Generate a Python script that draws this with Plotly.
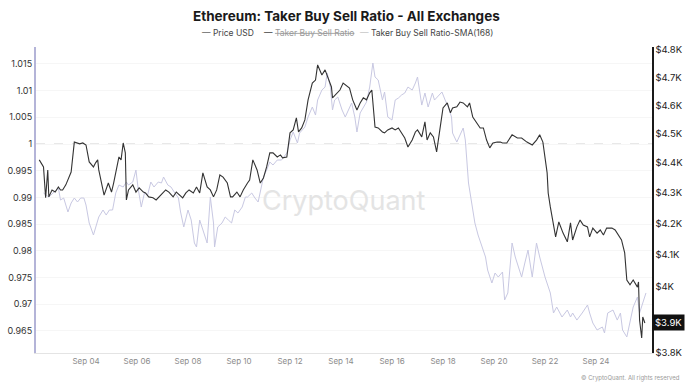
import math
import plotly.graph_objects as go

# ---------------- data ----------------
price_time = [
    "2025-09-02 04:00", "2025-09-02 06:00", "2025-09-02 08:00", "2025-09-02 10:00", "2025-09-02 12:00",
    "2025-09-02 13:00", "2025-09-02 16:00", "2025-09-02 19:00", "2025-09-02 22:00", "2025-09-03 00:00",
    "2025-09-03 02:00", "2025-09-03 05:00", "2025-09-03 08:00", "2025-09-03 10:00", "2025-09-03 13:00",
    "2025-09-03 16:00", "2025-09-03 18:00", "2025-09-03 21:00", "2025-09-04 00:00", "2025-09-04 03:00",
    "2025-09-04 07:00", "2025-09-04 09:00", "2025-09-04 11:00", "2025-09-04 12:00", "2025-09-04 16:00",
    "2025-09-04 17:00", "2025-09-04 21:00", "2025-09-05 00:00", "2025-09-05 02:00", "2025-09-05 06:00",
    "2025-09-05 07:00", "2025-09-05 09:00", "2025-09-05 11:00", "2025-09-05 13:00", "2025-09-05 14:00",
    "2025-09-05 16:00", "2025-09-05 20:00", "2025-09-05 23:00", "2025-09-06 02:00", "2025-09-06 06:00",
    "2025-09-06 08:00", "2025-09-06 11:00", "2025-09-06 15:00", "2025-09-06 18:00", "2025-09-06 21:00",
    "2025-09-07 00:00", "2025-09-07 03:00", "2025-09-07 06:00", "2025-09-07 10:00", "2025-09-07 13:00",
    "2025-09-07 16:00", "2025-09-07 19:00", "2025-09-07 22:00", "2025-09-08 01:00", "2025-09-08 05:00",
    "2025-09-08 08:00", "2025-09-08 11:00", "2025-09-08 14:00", "2025-09-08 18:00", "2025-09-08 21:00",
    "2025-09-09 00:00", "2025-09-09 03:00", "2025-09-09 06:00", "2025-09-09 09:00", "2025-09-09 13:00",
    "2025-09-09 16:00", "2025-09-09 18:00", "2025-09-09 22:00", "2025-09-10 01:00", "2025-09-10 04:00",
    "2025-09-10 08:00", "2025-09-10 10:00", "2025-09-10 13:00", "2025-09-10 17:00", "2025-09-10 20:00",
    "2025-09-10 23:00", "2025-09-11 02:00", "2025-09-11 05:00", "2025-09-11 08:00", "2025-09-11 12:00",
    "2025-09-11 15:00", "2025-09-11 17:00", "2025-09-11 21:00", "2025-09-12 00:00", "2025-09-12 03:00",
    "2025-09-12 06:00", "2025-09-12 08:00", "2025-09-12 11:00", "2025-09-12 14:00", "2025-09-12 17:00",
    "2025-09-12 21:00", "2025-09-13 00:00", "2025-09-13 02:00", "2025-09-13 06:00", "2025-09-13 09:00",
    "2025-09-13 12:00", "2025-09-13 15:00", "2025-09-13 16:00", "2025-09-13 20:00", "2025-09-13 23:00",
    "2025-09-14 02:00", "2025-09-14 06:00", "2025-09-14 08:00", "2025-09-14 11:00", "2025-09-14 15:00",
    "2025-09-14 18:00", "2025-09-14 21:00", "2025-09-15 00:00", "2025-09-15 03:00", "2025-09-15 05:00",
    "2025-09-15 08:00", "2025-09-15 11:00", "2025-09-15 15:00", "2025-09-15 17:00", "2025-09-15 20:00",
    "2025-09-16 00:00", "2025-09-16 03:00", "2025-09-16 06:00", "2025-09-16 09:00", "2025-09-16 12:00",
    "2025-09-16 15:00", "2025-09-16 19:00", "2025-09-16 22:00", "2025-09-17 00:00", "2025-09-17 04:00",
    "2025-09-17 07:00", "2025-09-17 09:00", "2025-09-17 12:00", "2025-09-17 15:00", "2025-09-17 18:00",
    "2025-09-17 21:00", "2025-09-18 00:00", "2025-09-18 04:00", "2025-09-18 07:00", "2025-09-18 09:00",
    "2025-09-18 13:00", "2025-09-18 16:00", "2025-09-18 19:00", "2025-09-18 23:00", "2025-09-19 01:00",
    "2025-09-19 04:00", "2025-09-19 08:00", "2025-09-19 11:00", "2025-09-19 14:00", "2025-09-19 17:00",
    "2025-09-19 20:00", "2025-09-19 23:00", "2025-09-20 03:00", "2025-09-20 06:00", "2025-09-20 08:00",
    "2025-09-20 12:00", "2025-09-20 17:00", "2025-09-20 22:00", "2025-09-21 02:00", "2025-09-21 07:00",
    "2025-09-21 12:00", "2025-09-21 16:00", "2025-09-21 19:00", "2025-09-21 22:00", "2025-09-22 02:00",
    "2025-09-22 03:00", "2025-09-22 05:00", "2025-09-22 08:00", "2025-09-22 10:00", "2025-09-22 13:00",
    "2025-09-22 17:00", "2025-09-22 21:00", "2025-09-23 00:00", "2025-09-23 02:00", "2025-09-23 06:00",
    "2025-09-23 09:00", "2025-09-23 12:00", "2025-09-23 16:00", "2025-09-23 18:00", "2025-09-23 21:00",
    "2025-09-24 01:00", "2025-09-24 04:00", "2025-09-24 07:00", "2025-09-24 10:00", "2025-09-24 15:00",
    "2025-09-24 18:00", "2025-09-24 21:00", "2025-09-25 00:00", "2025-09-25 03:00", "2025-09-25 05:00",
    "2025-09-25 08:00", "2025-09-25 11:00", "2025-09-25 15:00", "2025-09-25 16:00", "2025-09-25 17:00",
    "2025-09-25 19:00", "2025-09-25 20:00", "2025-09-25 22:00",
]
price_usd = [
    4410, 4400, 4386, 4283, 4376, 4286, 4309, 4302, 4319, 4309,
    4309, 4326, 4352, 4369, 4471, 4468, 4465, 4468, 4461, 4403,
    4386, 4400, 4410, 4376, 4309, 4292, 4332, 4302, 4332, 4410,
    4420, 4410, 4468, 4434, 4276, 4309, 4326, 4302, 4316, 4302,
    4299, 4286, 4283, 4276, 4286, 4299, 4309, 4302, 4286, 4302,
    4292, 4283, 4299, 4309, 4299, 4319, 4299, 4366, 4319, 4309,
    4286, 4309, 4359, 4352, 4332, 4286, 4286, 4302, 4286, 4309,
    4332, 4342, 4410, 4376, 4332, 4349, 4386, 4434, 4434, 4420,
    4427, 4417, 4420, 4503, 4513, 4555, 4506, 4520, 4548, 4619,
    4679, 4690, 4745, 4708, 4727, 4698, 4665, 4626, 4644, 4654,
    4679, 4665, 4661, 4619, 4583, 4608, 4626, 4619, 4644, 4654,
    4523, 4520, 4506, 4503, 4513, 4520, 4513, 4520, 4503, 4485,
    4454, 4478, 4506, 4513, 4489, 4541, 4478, 4503, 4489, 4437,
    4513, 4590, 4608, 4573, 4590, 4594, 4611, 4608, 4594, 4608,
    4558, 4537, 4520, 4520, 4478, 4451, 4468, 4471, 4471, 4468,
    4468, 4496, 4485, 4485, 4471, 4461, 4478, 4496, 4471, 4366,
    4299, 4253, 4194, 4156, 4204, 4168, 4140, 4201, 4146, 4188,
    4210, 4194, 4188, 4156, 4184, 4168, 4178, 4162, 4184, 4184,
    4178, 4162, 4146, 4105, 4020, 4005, 4020, 3998, 4014, 3898,
    3844, 3907, 3889,
]

sma_time = [
    "2025-09-02 08:00", "2025-09-02 13:00", "2025-09-02 18:00", "2025-09-02 22:00", "2025-09-03 00:00",
    "2025-09-03 03:00", "2025-09-03 07:00", "2025-09-03 10:00", "2025-09-03 13:00", "2025-09-03 16:00",
    "2025-09-03 19:00", "2025-09-03 22:00", "2025-09-04 00:00", "2025-09-04 03:00", "2025-09-04 07:00",
    "2025-09-04 09:00", "2025-09-04 12:00", "2025-09-04 16:00", "2025-09-04 19:00", "2025-09-04 22:00",
    "2025-09-05 01:00", "2025-09-05 04:00", "2025-09-05 07:00", "2025-09-05 11:00", "2025-09-05 14:00",
    "2025-09-05 16:00", "2025-09-05 20:00", "2025-09-05 23:00", "2025-09-06 01:00", "2025-09-06 04:00",
    "2025-09-06 07:00", "2025-09-06 10:00", "2025-09-06 13:00", "2025-09-06 16:00", "2025-09-06 20:00",
    "2025-09-06 23:00", "2025-09-07 01:00", "2025-09-07 05:00", "2025-09-07 08:00", "2025-09-07 11:00",
    "2025-09-07 15:00", "2025-09-07 17:00", "2025-09-07 20:00", "2025-09-08 00:00", "2025-09-08 03:00",
    "2025-09-08 06:00", "2025-09-08 08:00", "2025-09-08 11:00", "2025-09-08 14:00", "2025-09-08 18:00",
    "2025-09-08 21:00", "2025-09-09 00:00", "2025-09-09 01:00", "2025-09-09 04:00", "2025-09-09 08:00",
    "2025-09-09 11:00", "2025-09-09 14:00", "2025-09-09 17:00", "2025-09-09 20:00", "2025-09-09 23:00",
    "2025-09-10 03:00", "2025-09-10 06:00", "2025-09-10 08:00", "2025-09-10 12:00", "2025-09-10 15:00",
    "2025-09-10 18:00", "2025-09-10 21:00", "2025-09-10 23:00", "2025-09-11 02:00", "2025-09-11 05:00",
    "2025-09-11 08:00", "2025-09-11 12:00", "2025-09-11 16:00", "2025-09-11 21:00", "2025-09-12 00:00",
    "2025-09-12 03:00", "2025-09-12 07:00", "2025-09-12 09:00", "2025-09-12 14:00", "2025-09-12 17:00",
    "2025-09-12 21:00", "2025-09-13 00:00", "2025-09-13 02:00", "2025-09-13 06:00", "2025-09-13 09:00",
    "2025-09-13 11:00", "2025-09-13 14:00", "2025-09-13 16:00", "2025-09-13 18:00", "2025-09-13 21:00",
    "2025-09-14 01:00", "2025-09-14 04:00", "2025-09-14 07:00", "2025-09-14 10:00", "2025-09-14 13:00",
    "2025-09-14 15:00", "2025-09-14 18:00", "2025-09-14 21:00", "2025-09-15 00:00", "2025-09-15 03:00",
    "2025-09-15 06:00", "2025-09-15 08:00", "2025-09-15 11:00", "2025-09-15 15:00", "2025-09-15 17:00",
    "2025-09-15 20:00", "2025-09-16 00:00", "2025-09-16 03:00", "2025-09-16 06:00", "2025-09-16 09:00",
    "2025-09-16 12:00", "2025-09-16 15:00", "2025-09-16 19:00", "2025-09-16 22:00", "2025-09-17 00:00",
    "2025-09-17 04:00", "2025-09-17 07:00", "2025-09-17 10:00", "2025-09-17 14:00", "2025-09-17 16:00",
    "2025-09-17 19:00", "2025-09-17 23:00", "2025-09-18 02:00", "2025-09-18 05:00", "2025-09-18 08:00",
    "2025-09-18 09:00", "2025-09-18 13:00", "2025-09-18 16:00", "2025-09-18 19:00", "2025-09-18 21:00",
    "2025-09-19 00:00", "2025-09-19 03:00", "2025-09-19 06:00", "2025-09-19 09:00", "2025-09-19 13:00",
    "2025-09-19 16:00", "2025-09-19 18:00", "2025-09-19 22:00", "2025-09-20 01:00", "2025-09-20 04:00",
    "2025-09-20 08:00", "2025-09-20 10:00", "2025-09-20 13:00", "2025-09-20 17:00", "2025-09-20 20:00",
    "2025-09-20 23:00", "2025-09-21 02:00", "2025-09-21 05:00", "2025-09-21 08:00", "2025-09-21 12:00",
    "2025-09-21 16:00", "2025-09-21 19:00", "2025-09-22 00:00", "2025-09-22 05:00", "2025-09-22 08:00",
    "2025-09-22 11:00", "2025-09-22 16:00", "2025-09-22 21:00", "2025-09-23 00:00", "2025-09-23 02:00",
    "2025-09-23 06:00", "2025-09-23 11:00", "2025-09-23 16:00", "2025-09-23 18:00", "2025-09-23 21:00",
    "2025-09-24 01:00", "2025-09-24 06:00", "2025-09-24 08:00", "2025-09-24 11:00", "2025-09-24 16:00",
    "2025-09-24 20:00", "2025-09-24 23:00", "2025-09-25 01:00", "2025-09-25 05:00", "2025-09-25 08:00",
    "2025-09-25 11:00", "2025-09-25 15:00", "2025-09-25 17:00", "2025-09-25 20:00", "2025-09-25 23:00",
]
sma_ratio = [
    0.99082, 0.99007, 0.99101, 0.99176, 0.98951, 0.98989, 0.98727, 0.98895, 0.98989, 0.98914,
    0.98989, 0.98989, 0.98858, 0.98521, 0.98296, 0.98446, 0.98633, 0.98764, 0.98670, 0.98764,
    0.98764, 0.99082, 0.99232, 0.99195, 0.99288, 0.99232, 0.99288, 0.99513, 0.99176, 0.98820,
    0.99082, 0.99045, 0.99288, 0.99195, 0.99288, 0.99270, 0.99382, 0.99232, 0.99195, 0.99101,
    0.98989, 0.98727, 0.98446, 0.98764, 0.98577, 0.98146, 0.98071, 0.98577, 0.98389, 0.98146,
    0.99007, 0.98521, 0.98071, 0.98446, 0.98521, 0.98633, 0.98577, 0.98521, 0.98764, 0.98708,
    0.98820, 0.99007, 0.99007, 0.99082, 0.98989, 0.98914, 0.99195, 0.99382, 0.99513, 0.99663,
    0.99607, 0.99700, 0.99700, 0.99831, 1.00075, 1.00225, 1.00019, 1.00206, 1.00318, 1.00506,
    1.00693, 1.00543, 1.00824, 1.01011, 1.01067, 1.01330, 1.01067, 1.00637, 1.00824, 1.00880,
    1.00637, 1.00506, 1.00637, 1.00768, 1.00506, 1.00225, 1.00581, 1.00693, 1.00787, 1.01067,
    1.01517, 1.01255, 1.01199, 1.00824, 1.00974, 1.00506, 1.00449, 1.00824, 1.00861, 1.00918,
    1.00955, 1.01067, 1.01011, 1.01142, 1.01255, 1.00730, 1.00955, 1.00693, 1.00955, 1.00824,
    1.00880, 1.00974, 1.00824, 1.00693, 1.00506, 1.00206, 1.00037, 1.00169, 1.00300, 1.00075,
    0.99270, 0.98895, 0.98521, 0.98296, 0.98071, 0.97884, 0.97640, 0.97397, 0.97584, 0.97509,
    0.97603, 0.97079, 0.97210, 0.98146, 0.97884, 0.97697, 0.97509, 0.97771, 0.98015, 0.97509,
    0.98146, 0.97884, 0.97509, 0.97210, 0.96835, 0.96947, 0.96760, 0.96891, 0.96760, 0.96835,
    0.96703, 0.96835, 0.96985, 0.96835, 0.96648, 0.96517, 0.96573, 0.96461, 0.96835, 0.96891,
    0.96703, 0.96835, 0.96517, 0.96386, 0.96703, 0.96947, 0.97135, 0.96835, 0.97022, 0.97210,
]

ratio_ticks = [0.965, 0.97, 0.975, 0.98, 0.985, 0.99, 0.995, 1.0, 1.005, 1.01, 1.015]
ratio_ticktext = ["0.965", "0.97", "0.975", "0.98", "0.985", "0.99", "0.995", "1", "1.005", "1.01", "1.015"]
# the $3.9K level is shown by the last-price badge, which hides its tick label
price_ticks = [3800, 4000, 4100, 4200, 4300, 4400, 4500, 4600, 4700, 4800]
price_ticktext = ["$3.8K", "$4K", "$4.1K", "$4.2K", "$4.3K", "$4.4K", "$4.5K", "$4.6K", "$4.7K", "$4.8K"]
last_price_label = "$3.9K"
x_ticks = ["2025-09-04", "2025-09-06", "2025-09-08", "2025-09-10", "2025-09-12", "2025-09-14",
           "2025-09-16", "2025-09-18", "2025-09-20", "2025-09-22", "2025-09-24"]
x_ticktext = ["Sep 04", "Sep 06", "Sep 08", "Sep 10", "Sep 12", "Sep 14",
              "Sep 16", "Sep 18", "Sep 20", "Sep 22", "Sep 24"]

FONT = "Inter, Roboto, 'Noto Sans', sans-serif"
W, H = 694, 389
ML, MR, MT, MB = 36, 42, 47, 36
PW = W - ML - MR
PH = H - MT - MB


def px_x(p):
    return (p - ML) / PW


def px_y(p):
    return (H - MB - p) / PH


fig = go.Figure()
fig.add_trace(go.Scatter(
    x=sma_time, y=sma_ratio, mode="lines", yaxis="y",
    line=dict(color="#c8c8e2", width=1), showlegend=False,
    name="Taker Buy Sell Ratio-SMA(168)"))
fig.add_trace(go.Scatter(
    x=price_time, y=price_usd, mode="lines", yaxis="y2",
    line=dict(color="#333333", width=1.1), showlegend=False,
    name="Price USD"))

fig.update_layout(
    width=W, height=H,
    margin=dict(l=ML, r=MR, t=MT, b=MB, autoexpand=False),
    paper_bgcolor="white", plot_bgcolor="white",
    font=dict(family=FONT),
    showlegend=False,
    xaxis=dict(
        type="date", automargin=False,
        range=["2025-09-02 00:56", "2025-09-26 04:42"],
        tickvals=x_ticks, ticktext=x_ticktext,
        tickfont=dict(size=8, color="#8c8c8c"),
        showgrid=False, zeroline=False,
        showline=True, linecolor="#e4e4e4", linewidth=1,
        ticks="", ticklen=0,
    ),
    yaxis=dict(
        automargin=False,
        range=[0.96086, 1.01817],
        tickvals=ratio_ticks, ticktext=ratio_ticktext,
        tickfont=dict(size=9, color="#333333"),
        showgrid=True, gridcolor="#f6f6f6", gridwidth=1,
        zeroline=False,
        showline=True, linecolor="#b4b4d8", linewidth=2,
        ticks="",
    ),
    yaxis2=dict(
        overlaying="y", side="right", type="log", automargin=False,
        range=[3.57978, 3.68224],
        tickvals=price_ticks, ticktext=price_ticktext,
        tickfont=dict(size=9.5, color="#222222"),
        showgrid=False, zeroline=False,
        showline=True, linecolor="#1a1a1a", linewidth=1.5,
        ticks="",
    ),
    shapes=[dict(
        type="line", xref="paper", x0=0, x1=1, yref="y", y0=1, y1=1,
        line=dict(color="#cfcfcf", width=1, dash="dash"), layer="below",
    )],
)

annotations = [
    dict(text="<b>Ethereum: Taker Buy Sell Ratio - All Exchanges</b>",
         x=px_x(346), y=px_y(16), xref="paper", yref="paper",
         xanchor="center", yanchor="middle", showarrow=False,
         font=dict(size=13.5, color="#1a1a1a", family=FONT)),
    dict(text="<span style='color:#666'>—</span> Price USD",
         x=px_x(200), y=px_y(33), xref="paper", yref="paper",
         xanchor="left", yanchor="middle", showarrow=False,
         font=dict(size=8.5, color="#444444", family=FONT)),
    dict(text="<span style='color:#444'>—</span> <s>Taker Buy Sell Ratio</s>",
         x=px_x(262), y=px_y(33), xref="paper", yref="paper",
         xanchor="left", yanchor="middle", showarrow=False,
         font=dict(size=8.5, color="#9a9a9a", family=FONT)),
    dict(text="<span style='color:#c8c8c8'>—</span> Taker Buy Sell Ratio-SMA(168)",
         x=px_x(358), y=px_y(33), xref="paper", yref="paper",
         xanchor="left", yanchor="middle", showarrow=False,
         font=dict(size=8.5, color="#444444", family=FONT)),
    dict(text="CryptoQuant",
         x=px_x(343), y=px_y(200), xref="paper", yref="paper",
         xanchor="center", yanchor="middle", showarrow=False,
         font=dict(size=27, color="#e4e4e4", family=FONT)),
    dict(text="© CryptoQuant. All rights reserved",
         x=px_x(682), y=px_y(378), xref="paper", yref="paper",
         xanchor="right", yanchor="middle", showarrow=False,
         font=dict(size=6, color="#9a9a9a", family=FONT)),
    dict(text=last_price_label,
         x=1, y=math.log10(price_usd[-1]), xref="paper", yref="y2",
         xanchor="left", yanchor="middle", showarrow=False,
         bgcolor="#111111", borderpad=2,
         font=dict(size=9.5, color="white", family=FONT)),
]
fig.update_layout(annotations=annotations)

# remove the browser's default page margin so the figure sits at (0, 0)
fig.write_html(
    "out.html",
    config={"displayModeBar": False, "staticPlot": True},
    post_script="document.body.style.margin='0';document.body.style.overflow='hidden';",
)
